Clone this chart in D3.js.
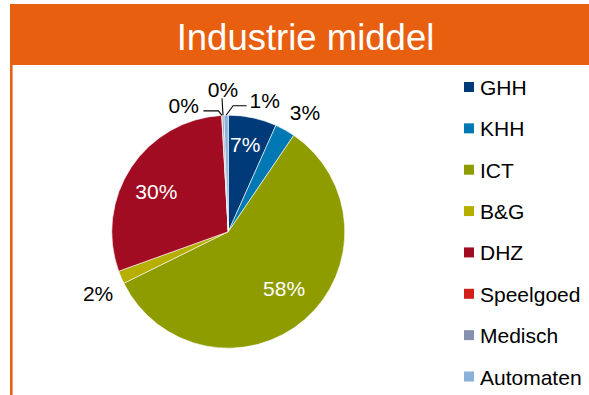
<!DOCTYPE html>
<html>
<head>
<meta charset="utf-8">
<script src="https://cdn.jsdelivr.net/npm/d3@7"></script>
<style>
  html, body { margin: 0; padding: 0; background: #fff; }
  svg { display: block; font-family: "Liberation Sans", Arial, sans-serif; }
</style>
</head>
<body>
<svg id="chart" width="589" height="395"></svg>
<script>
// Share per sector (percent)
const categories = ["GHH", "KHH", "ICT", "B&G", "DHZ", "Speelgoed", "Medisch", "Automaten"];
const shares = [6.7, 2.8, 58.2, 1.8, 29.6, 0.05, 0.25, 0.6];
const colors = ["#003a78", "#0078b4", "#8e9c00", "#b7af00", "#a10c22", "#d21f1b", "#8890b0", "#8ab1d9"];
const title = "Industrie middel";

// Label placement per slice: "in" = inside the slice, "out" = just outside,
// "call" = outside with a leader line (elbow and text offsets from the rim point)
const labelMode = ["in", "out", "in", "out", "in", "call", "call", "call"];
const labelRadius = [0.76, 1.21, 0.69, 1.24, 0.71, 1, 1, 1];
const labelNudge = [[-1.5, -0.5], [8, 4.5], [3, -4], [2.7, 5], [-3, 5.5], [0, 0], [0, 0], [0, 0]];
const calloutElbow = [null, null, null, null, null, [-3.5, -4.5], [-1, -17], [7, -9.5]];
const calloutEnd = [null, null, null, null, null, [-18.5, -4.5], [-1, -17], [20.5, -9.5]];
const calloutText = [null, null, null, null, null, [-23, -2.3, "end"], [0, -18.7, "middle"], [23.5, -6.9, "start"]];

const W = 589, H = 395;
const orange = "#e95f10";
const labelSize = 21;
const svg = d3.select("#chart");

// Frame: header band and left rule
svg.append("rect").attr("x", 10).attr("y", 4).attr("width", W - 10).attr("height", 61).attr("fill", orange);
svg.append("line").attr("x1", 11.3).attr("x2", 11.3).attr("y1", 65).attr("y2", H)
  .attr("stroke", orange).attr("stroke-width", 2.6);
svg.append("text").attr("x", 305.5).attr("y", 50).attr("text-anchor", "middle")
  .attr("fill", "#fff").attr("font-size", 36.5).text(title);

// Pie
const cx = 228.3, cy = 231.7, R = 116.5;
const total = d3.sum(shares);
const pct = v => Math.round(v / total * 100) + "%";
const pie = d3.pie().value(d => d.v).sort(null);
const data = pie(categories.map((c, i) => ({ c, v: shares[i], i })));
const arc = d3.arc().innerRadius(0).outerRadius(R);

const g = svg.append("g").attr("transform", `translate(${cx},${cy})`);
g.selectAll("path.slice").data(data).join("path")
  .attr("class", "slice")
  .attr("d", arc)
  .attr("fill", d => colors[d.data.i])
  .attr("stroke", "#fff").attr("stroke-width", 0.6).attr("stroke-linejoin", "round");

const polar = (a, r) => [r * Math.sin(a), -r * Math.cos(a)];

data.forEach(d => {
  const i = d.data.i;
  const mid = (d.startAngle + d.endAngle) / 2;
  const txt = pct(d.data.v);
  if (labelMode[i] === "call") {
    const p0 = polar(mid, R);
    const e = [p0[0] + calloutElbow[i][0], p0[1] + calloutElbow[i][1]];
    const f = [p0[0] + calloutEnd[i][0], p0[1] + calloutEnd[i][1]];
    g.append("polyline")
      .attr("points", [p0, e, f].map(p => p.join(",")).join(" "))
      .attr("fill", "none").attr("stroke", "#000").attr("stroke-width", 1.1);
    g.append("text")
      .attr("x", p0[0] + calloutText[i][0]).attr("y", p0[1] + calloutText[i][1])
      .attr("text-anchor", calloutText[i][2])
      .attr("font-size", labelSize).attr("fill", "#000").text(txt);
  } else {
    const p = polar(mid, R * labelRadius[i]);
    g.append("text")
      .attr("x", p[0] + labelNudge[i][0]).attr("y", p[1] + labelNudge[i][1])
      .attr("text-anchor", "middle").attr("dy", "0.35em")
      .attr("font-size", labelSize)
      .attr("fill", labelMode[i] === "in" ? "#fff" : "#000")
      .text(txt);
  }
});

// Legend
const ly = d3.scalePoint().domain(categories).range([87, 376.5]);
const legend = svg.append("g");
const items = legend.selectAll("g").data(categories).join("g")
  .attr("transform", d => `translate(464,${ly(d)})`);
items.append("rect").attr("x", 0).attr("y", -5).attr("width", 10).attr("height", 10)
  .attr("fill", (d, i) => colors[i]);
items.append("text").attr("x", 16).attr("y", 8).attr("font-size", labelSize).attr("fill", "#000")
  .text(d => d);
</script>
</body>
</html>
